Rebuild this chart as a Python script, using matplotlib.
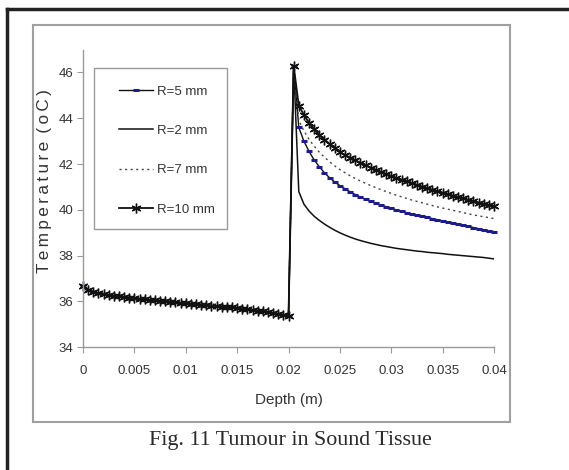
import numpy as np
import matplotlib
matplotlib.use('Agg')
import matplotlib.pyplot as plt
from matplotlib.lines import Line2D
from matplotlib.patches import Rectangle

plt.rcParams['font.family'] = ['Liberation Sans', 'DejaVu Sans']

# profondeur (m), pas de 0.0005
depth = np.round(np.arange(81) * 0.0005, 4)

# partie commune (tissu sain) de 0 à 0.02 m
tissu = [36.68, 36.52, 36.42, 36.36, 36.32, 36.28, 36.25, 36.22, 36.20, 36.17,
         36.14, 36.12, 36.09, 36.07, 36.05, 36.03, 36.01, 35.99, 35.96, 35.94,
         35.92, 35.90, 35.88, 35.86, 35.84, 35.82, 35.80, 35.78, 35.76, 35.74,
         35.72, 35.69, 35.66, 35.63, 35.60, 35.57, 35.54, 35.50, 35.46, 35.42,
         35.38]
pic = 46.3

# tumeur, de 0.021 à 0.04 m
r5 = [43.60, 43.00, 42.55, 42.18, 41.88, 41.62, 41.40, 41.22, 41.06, 40.92,
      40.79, 40.67, 40.56, 40.46, 40.37, 40.29, 40.21, 40.14, 40.07, 40.00,
      39.94, 39.88, 39.82, 39.77, 39.72, 39.67, 39.62, 39.57, 39.52, 39.47,
      39.42, 39.38, 39.33, 39.28, 39.23, 39.18, 39.13, 39.09, 39.05]
r2 = [40.80, 40.25, 39.95, 39.72, 39.54, 39.38, 39.24, 39.11, 39.00, 38.90,
      38.81, 38.73, 38.66, 38.60, 38.54, 38.49, 38.44, 38.40, 38.36, 38.32,
      38.29, 38.26, 38.23, 38.20, 38.18, 38.15, 38.13, 38.11, 38.09, 38.06,
      38.04, 38.02, 38.00, 37.98, 37.96, 37.94, 37.92, 37.89, 37.86]
r7 = [43.90, 43.45, 43.08, 42.78, 42.52, 42.30, 42.10, 41.92, 41.76, 41.62,
      41.49, 41.37, 41.26, 41.16, 41.06, 40.97, 40.88, 40.80, 40.72, 40.64,
      40.57, 40.50, 40.43, 40.37, 40.31, 40.25, 40.19, 40.13, 40.08, 40.03,
      39.98, 39.93, 39.88, 39.83, 39.78, 39.74, 39.70, 39.66, 39.62]
r10 = [44.55, 44.15, 43.80, 43.52, 43.28, 43.07, 42.88, 42.70, 42.53, 42.40,
       42.28, 42.17, 42.06, 41.95, 41.85, 41.75, 41.66, 41.57, 41.48, 41.40,
       41.32, 41.24, 41.16, 41.09, 41.02, 40.95, 40.88, 40.81, 40.75, 40.68,
       40.62, 40.56, 40.50, 40.44, 40.38, 40.32, 40.26, 40.21, 40.15]

x_ticks = [0, 0.005, 0.01, 0.015, 0.02, 0.025, 0.03, 0.035, 0.04]
x_tick_labels = ['0', '0.005', '0.01', '0.015', '0.02', '0.025', '0.03', '0.035', '0.04']
y_ticks = [34, 36, 38, 40, 42, 44, 46]

fig = plt.figure(figsize=(5.69, 4.70), dpi=100)
ax = fig.add_axes([0.1459, 0.2611, 0.7223, 0.6334])

noir = '#111111'
bleu = '#1c1c8a'

def serie(tumeur):
    return tissu + [pic] + tumeur

l5, = ax.plot(depth, serie(r5), color=noir, lw=1.0, marker='_', ms=4, mew=2.2,
              mec=bleu, clip_on=False, label='R=5 mm')
l2, = ax.plot(depth, serie(r2), color=noir, lw=1.1, label='R=2 mm')
l7, = ax.plot(depth, serie(r7), color='#444444', lw=1.0, ls=(0, (1.5, 2.5)), label='R=7 mm')
l10, = ax.plot(depth, serie(r10), color=noir, lw=1.3, marker=(6, 2, 0), ms=7, mew=1.0,
               mec=noir, clip_on=False, label='R=10 mm')

ax.set_xlim(0, 0.04)
ax.set_ylim(34, 47)
ax.set_xticks(x_ticks)
ax.set_xticklabels(x_tick_labels)
ax.set_yticks(y_ticks)
for s in ['top', 'right']:
    ax.spines[s].set_visible(False)
for s in ['left', 'bottom']:
    ax.spines[s].set_color('#9a9a9a')
    ax.spines[s].set_linewidth(1.0)
ax.tick_params(axis='x', colors='#9a9a9a', length=4, pad=9, labelcolor='#333333', labelsize=9.5)
ax.tick_params(axis='y', colors='#9a9a9a', length=4, pad=3, labelcolor='#333333', labelsize=9.5)

ax.set_xlabel('Depth (m)', fontsize=11, color='#333333', labelpad=11)
fig.text(0.079, 1 - 181 / 470, 'T\u2009e\u2009m\u2009p\u2009e\u2009r\u2009a\u2009t\u2009u\u2009r\u2009e\u2009 (\u2009o\u2009C\u2009)',
         rotation=90, ha='center', va='center', fontsize=12.3, color='#333333')

# légende sans cadre + cadre dessiné à part
leg = fig.legend(handles=[l5, l2, l7, l10], loc='upper left', bbox_to_anchor=(0.209, 0.818),
                 frameon=False, fontsize=9.5, labelspacing=2.05, handlelength=2.6,
                 handletextpad=0.3, numpoints=1, borderpad=0, borderaxespad=0)
for t in leg.get_texts():
    t.set_color('#333333')
fig.add_artist(Rectangle((94 / 569, 1 - 229 / 470), 133 / 569, 161 / 470, transform=fig.transFigure,
                         fill=False, ec='#9a9a9a', lw=1.0))

# cadre du graphique
fig.add_artist(Rectangle((33 / 569, 1 - 422 / 470), 477 / 569, 397 / 470, transform=fig.transFigure,
                         fill=False, ec='#a0a0a0', lw=1.5))
# bordure extérieure
fig.add_artist(Line2D([7 / 569, 7 / 569], [0, 1 - 9 / 470], transform=fig.transFigure, color='#222222', lw=2.5))
fig.add_artist(Line2D([7 / 569, 1], [1 - 9 / 470, 1 - 9 / 470], transform=fig.transFigure, color='#222222', lw=2.5))

fig.text(0.511, 1 - 441 / 470, 'Fig. 11 Tumour in Sound Tissue', ha='center', va='center',
         fontsize=15.8, color='#2a2a2a', family=['Liberation Serif', 'DejaVu Serif'])

fig.savefig('out.png', dpi=100)
